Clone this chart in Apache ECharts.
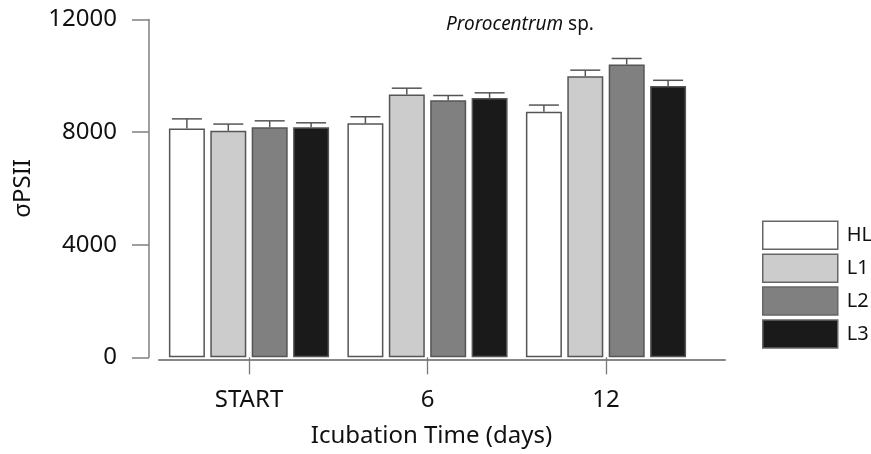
<!DOCTYPE html>
<html>
<head>
<meta charset="utf-8">
<script src="https://cdn.jsdelivr.net/npm/echarts@6/dist/echarts.min.js"></script>
<style>
  html, body { margin: 0; padding: 0; background: #fff; }
  #chart { width: 871px; height: 454px; }
</style>
</head>
<body>
<div id="chart"></div>
<script>
// Incubation days and treatment series
const categories = ['START', '6', '12'];
const seriesNames = ['HL', 'L1', 'L2', 'L3'];
const meanHL = [8130, 8310, 8720];
const meanL1 = [8045, 9335, 9985];
const meanL2 = [8175, 9135, 10400];
const meanL3 = [8175, 9215, 9640];
const errHL = [340, 235, 240];
const errL1 = [240, 225, 215];
const errL2 = [225, 165, 215];
const errL3 = [155, 180, 200];
const yTicks = [0, 4000, 8000, 12000];

const means = [meanHL, meanL1, meanL2, meanL3];
const errs = [errHL, errL1, errL2, errL3];
const colors = ['#ffffff', '#cccccc', '#808080', '#1a1a1a'];

const FONT = 'Noto Sans';
const BAR_W = 36;
const GAP = 0.15;
const CAP_W = 30;
const LINE = '#555555';

function errorRenderer(idx) {
  return function (params, api) {
    const cat = api.value(0);
    const base = api.coord([cat, api.value(1)]);
    const top = api.coord([cat, api.value(1) + api.value(2)]);
    const x = base[0] + (idx - 1.5) * BAR_W * (1 + GAP);
    const style = { stroke: LINE, lineWidth: 1.5 };
    return {
      type: 'group',
      children: [
        { type: 'line', shape: { x1: x, y1: base[1], x2: x, y2: top[1] }, style: style },
        { type: 'line', shape: { x1: x - CAP_W / 2, y1: top[1], x2: x + CAP_W / 2, y2: top[1] }, style: style }
      ]
    };
  };
}

const series = [];
seriesNames.forEach(function (name, i) {
  series.push({
    name: name,
    type: 'bar',
    xAxisIndex: 0,
    yAxisIndex: 0,
    data: means[i],
    barWidth: BAR_W,
    barGap: (GAP * 100) + '%',
    itemStyle: { color: colors[i], borderColor: LINE, borderWidth: 1.5 },
    emphasis: { disabled: true },
    animation: false
  });
});
seriesNames.forEach(function (name, i) {
  series.push({
    name: name + ' SE',
    type: 'custom',
    xAxisIndex: 0,
    yAxisIndex: 0,
    renderItem: errorRenderer(i),
    data: means[i].map(function (v, k) { return [k, v, errs[i][k]]; }),
    encode: { x: 0, y: 1 },
    z: 5,
    silent: true,
    animation: false
  });
});

const chart = echarts.init(document.getElementById('chart'), null, { renderer: 'canvas' });
chart.setOption({
  backgroundColor: '#ffffff',
  animation: false,
  title: {
    text: '{i|Prorocentrum} sp.',
    left: 446,
    top: 15,
    padding: 0,
    textStyle: {
      fontFamily: FONT, fontSize: 19, fontWeight: 'normal', color: '#111',
      rich: { i: { fontFamily: FONT, fontSize: 19, fontStyle: 'italic', color: '#111' } }
    }
  },
  legend: {
    data: seriesNames,
    orient: 'vertical',
    left: 762,
    top: 220.5,
    padding: 0,
    itemWidth: 75,
    itemHeight: 28,
    itemGap: 3.4,
    icon: 'rect',
    selectedMode: false,
    itemStyle: { borderColor: '#666', borderWidth: 1.5 },
    textStyle: { fontFamily: FONT, fontSize: 20, color: '#111', padding: [0, 0, 0, 4] }
  },
  grid: [
    { left: 159.75, right: 175.75, top: 19.5, bottom: 96.7 },
    { left: 159, right: 146, top: 19.5, bottom: 94 }
  ],
  xAxis: [
    {
      type: 'category',
      gridIndex: 0,
      data: categories,
      offset: 3,
      axisLine: { show: false },
      axisTick: { show: true, alignWithLabel: true, length: 17, lineStyle: { color: '#777', width: 1.3 } },
      axisLabel: { fontFamily: FONT, fontSize: 24, color: '#111', margin: 28 },
      name: 'Icubation Time (days)',
      nameLocation: 'middle',
      nameGap: 64,
      nameTextStyle: { fontFamily: FONT, fontSize: 24, color: '#111', padding: [0, 0, 0, 8] }
    },
    {
      type: 'value',
      gridIndex: 1,
      min: 0,
      max: 1,
      axisLine: { show: true, lineStyle: { color: '#888', width: 2 } },
      axisTick: { show: false },
      axisLabel: { show: false },
      splitLine: { show: false }
    }
  ],
  yAxis: [
    {
      type: 'value',
      gridIndex: 0,
      min: yTicks[0],
      max: yTicks[yTicks.length - 1],
      interval: yTicks[1] - yTicks[0],
      offset: 10.75,
      axisLine: { show: true, lineStyle: { color: '#808080', width: 1.5 } },
      axisTick: { show: true, length: 17, lineStyle: { color: '#808080', width: 1.5 } },
      axisLabel: { fontFamily: FONT, fontSize: 24, color: '#111', margin: 32, formatter: function (v) { return String(v); } },
      splitLine: { show: false },
      name: 'σPSII',
      nameLocation: 'middle',
      nameRotate: 90,
      nameGap: 114,
      nameTextStyle: { fontFamily: FONT, fontSize: 24, color: '#111' }
    },
    {
      type: 'value',
      gridIndex: 1,
      show: false
    }
  ],
  series: series
});
</script>
</body>
</html>
